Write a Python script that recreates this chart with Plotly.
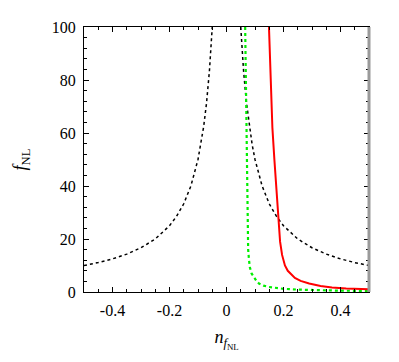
import plotly.graph_objects as go

# black dotted curve (two branches, split by None)
black_x = [-0.5, -0.45, -0.4, -0.35, -0.3, -0.25, -0.2, -0.175, -0.15, -0.125, -0.1, -0.09,
           -0.08, -0.07, -0.06, -0.05, None,
           0.05, 0.06, 0.07, 0.08, 0.09, 0.1, 0.125, 0.15, 0.175, 0.2, 0.25, 0.3, 0.35,
           0.4, 0.45, 0.5]
black_y = [10, 11.1, 12.5, 14.3, 16.7, 20, 25, 28.6, 33.3, 40, 50, 55.6,
           62.5, 71.4, 83.3, 100, None,
           100, 83.3, 71.4, 62.5, 55.6, 50, 40, 33.3, 28.6, 25, 20, 16.7, 14.3,
           12.5, 11.1, 10]

# red solid curve
red_x = [0.149, 0.155, 0.161, 0.168, 0.175, 0.182, 0.188, 0.195, 0.205, 0.215, 0.225,
         0.24, 0.26, 0.29, 0.33, 0.37, 0.42, 0.5]
red_y = [100, 82, 62, 50, 40, 28, 19, 14, 10, 8, 6.8,
         5.3, 4.2, 3.2, 2.3, 1.7, 1.3, 1.0]

# green dotted curve
green_x = [0.0655, 0.068, 0.070, 0.073, 0.076, 0.079, 0.082, 0.088, 0.095, 0.105, 0.114,
           0.13, 0.149, 0.175, 0.2, 0.25, 0.3, 0.4, 0.5]
green_y = [100, 75, 52, 35, 16, 12, 9.3, 7, 5.6, 4.2, 3.2,
           2.4, 1.9, 1.5, 1.2, 0.9, 0.7, 0.5, 0.4]

x_ticks = [-0.4, -0.2, 0, 0.2, 0.4]
x_labels = ["-0.4", "-0.2", "0", "0.2", "0.4"]
y_ticks = [0, 20, 40, 60, 80, 100]

font = "Liberation Serif"

fig = go.Figure()

fig.add_trace(go.Scatter(x=black_x, y=black_y, mode="lines",
                         line=dict(color="black", width=1.5, dash="dot")))
fig.add_trace(go.Scatter(x=green_x, y=green_y, mode="lines",
                         line=dict(color="#00ee00", width=2.2, dash="dot")))
fig.add_trace(go.Scatter(x=red_x, y=red_y, mode="lines",
                         line=dict(color="#ff0000", width=2)))

axis_common = dict(
    showgrid=False,
    zeroline=False,
    showline=True,
    linecolor="black",
    linewidth=1,
    mirror="allticks",
    ticks="inside",
    ticklen=5,
    tickcolor="black",
    ticklabelstandoff=4,
    tickfont=dict(family=font, size=16, color="black"),
)

# page body has an 8px margin, so the figure is shrunk and shifted accordingly
fig.update_layout(
    width=391,
    height=354,
    showlegend=False,
    plot_bgcolor="white",
    paper_bgcolor="white",
    font=dict(family=font, size=16, color="black"),
    margin=dict(l=74, r=30, t=11, b=70),
    xaxis=dict(
        range=[-0.5, 0.5],
        tickvals=x_ticks,
        ticktext=x_labels,
        minor=dict(dtick=0.05, ticks="inside", ticklen=3, tickcolor="black"),
        title=dict(text="<i>n</i><sub><i>f</i><sub>NL</sub></sub>",
                   font=dict(family=font, size=18, color="black"), standoff=12),
        **axis_common,
    ),
    yaxis=dict(
        range=[0, 100],
        tickvals=y_ticks,
        minor=dict(dtick=4, ticks="inside", ticklen=3, tickcolor="black"),
        title=dict(text="<i>f</i><sub>NL</sub>",
                   font=dict(family=font, size=18, color="black"), standoff=20),
        **axis_common,
    ),
)

# right frame edge is drawn grey and heavier in the original
fig.add_shape(type="line", xref="paper", yref="paper", x0=1, x1=1, y0=0, y1=1,
              line=dict(color="#9a9a9a", width=3))

fig.write_html("out.html")
